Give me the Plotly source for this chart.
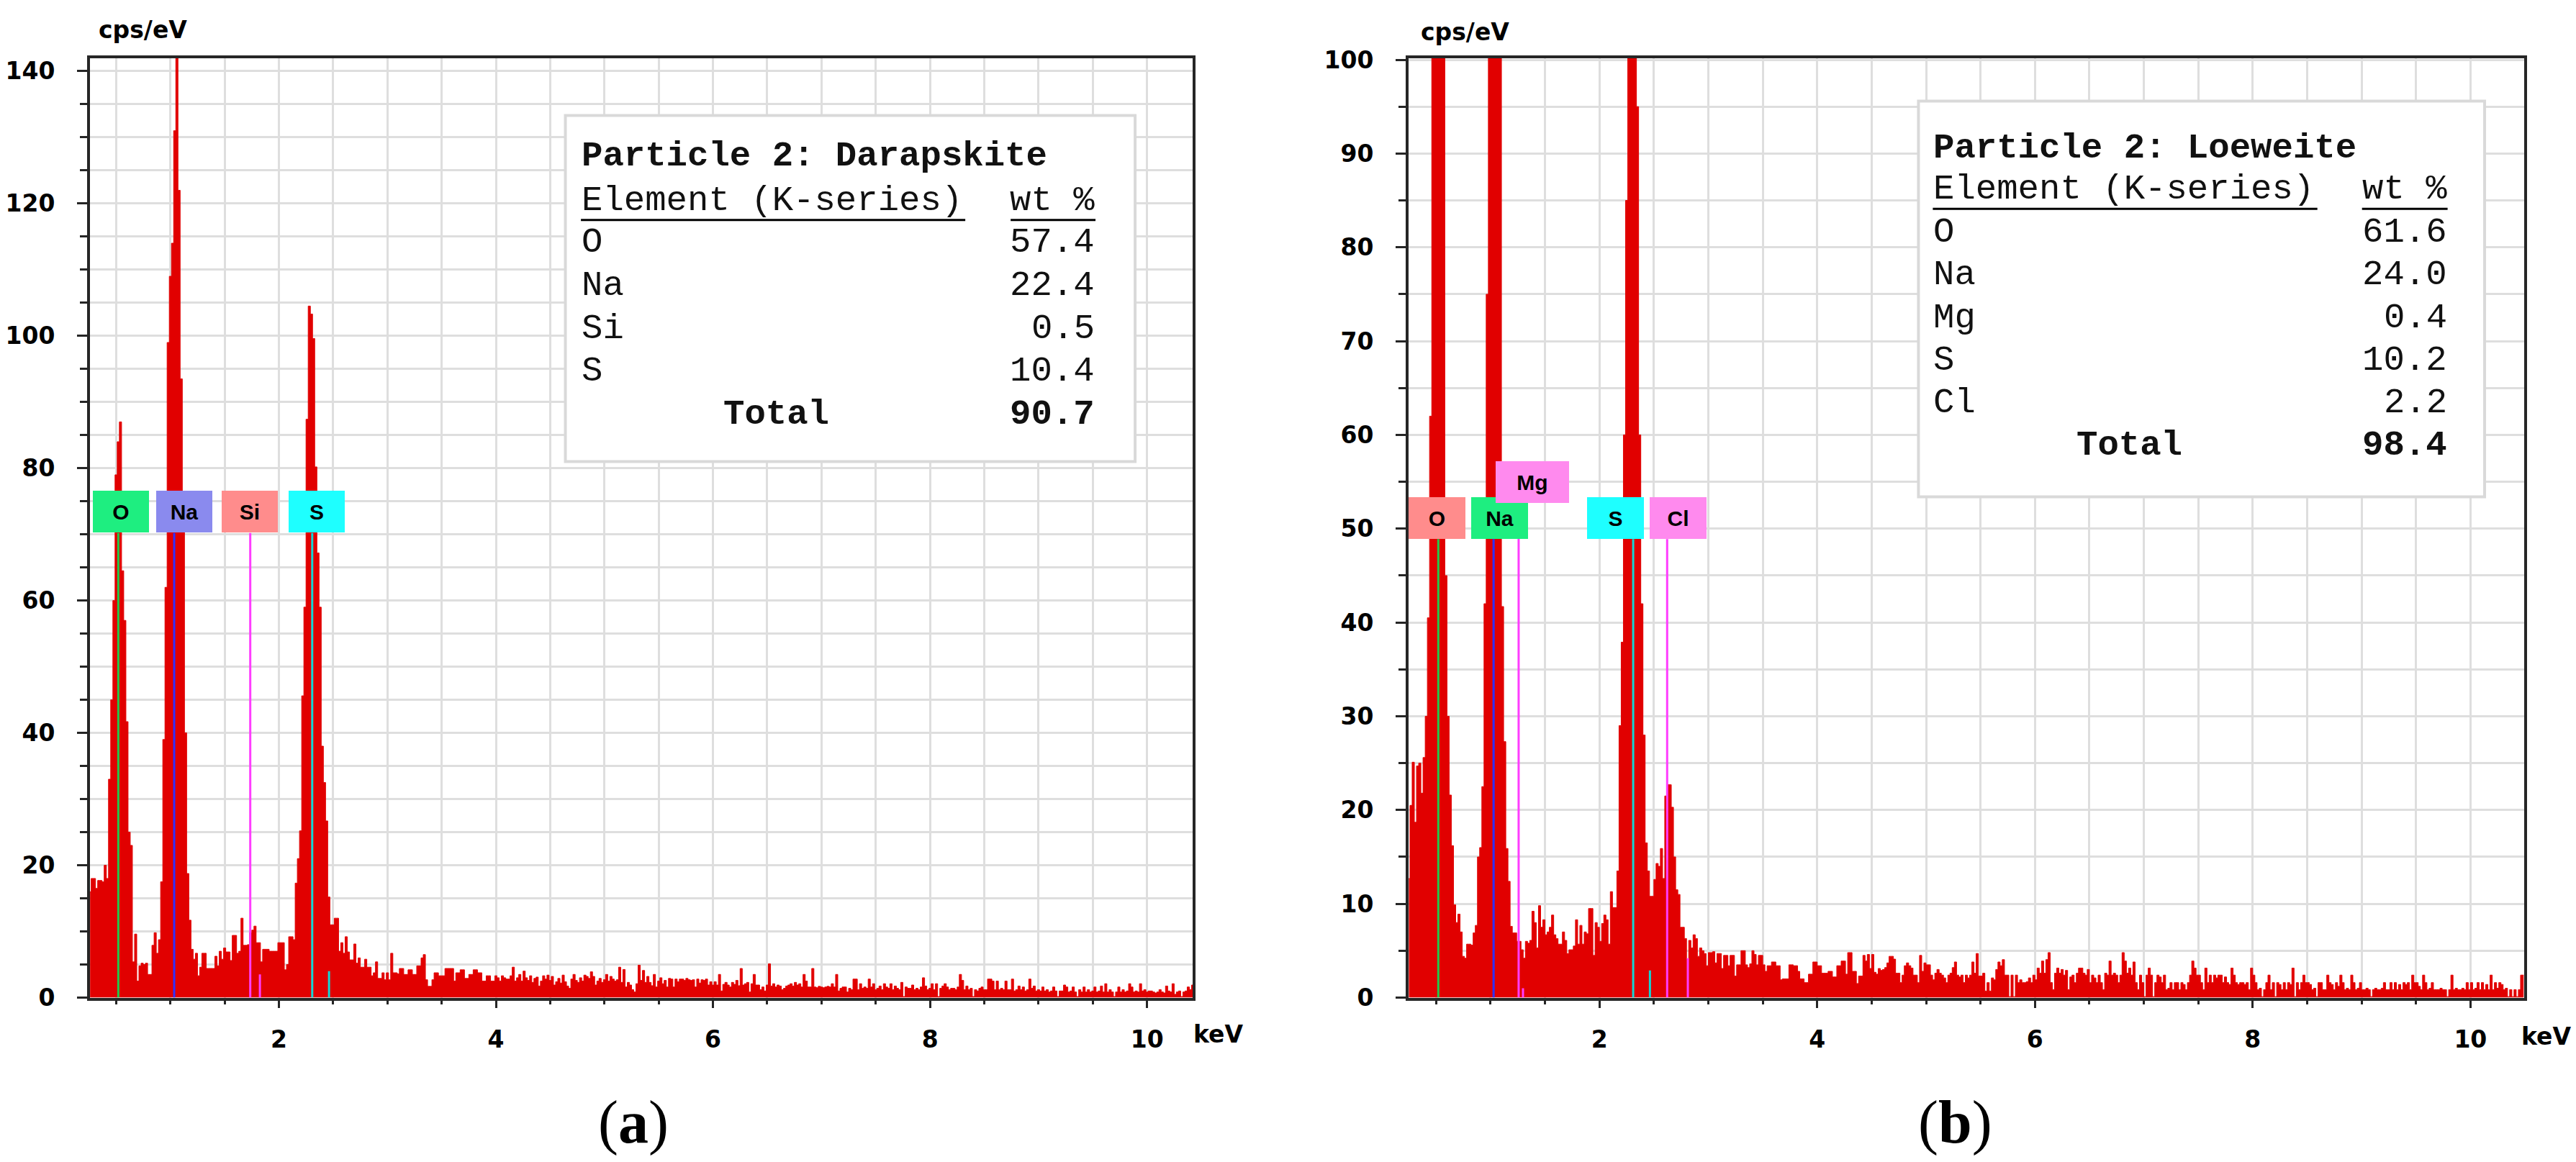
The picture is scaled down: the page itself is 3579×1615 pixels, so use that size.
"""EDS spectra of particle 2: darapskite (a) and loeweite (b)."""

import numpy as np
import plotly.graph_objects as go

W, H = 3579, 1615

# ------------------------------------------------------------------
# Data
# ------------------------------------------------------------------

STEP_KEV = 0.02          # channel width
A_START_KEV = 0.26       # first channel of spectrum (a)
B_START_KEV = 0.25       # first channel of spectrum (b)

# (a) Darapskite, cps/eV per channel
A_COUNTS = [
    16, 18, 18, 16.5, 17.7, 17.7, 17.5, 20, 18, 33,
    45, 60, 79, 84, 87, 64.5, 57, 41.7, 25, 23,
    5.4, 9.6, 2.5, 4.8, 5.2, 5, 5.2, 3.5, 3.5, 7.9,
    9.8, 6.7, 8.75, 17.5, 39, 62, 99, 109, 114, 131,
    150, 122, 93.5, 76, 40, 18.75, 11.7, 7.3, 5.8, 6.7,
    3.3, 4.6, 6.7, 6.7, 4.4, 4.4, 4.4, 4.4, 6.25, 4.8,
    7, 5.8, 7.5, 6.9, 6.9, 5.6, 9.4, 9.4, 6.7, 7,
    12, 7.9, 7.9, 8, 9.8, 10.2, 10.8, 8.3, 8.3, 5.4,
    7.3, 7.3, 7.3, 7, 7, 7, 7, 8.3, 8.3, 8.3,
    4.2, 5, 9.2, 9.2, 8.75, 17.3, 21, 25.2, 45.6, 59,
    87.4, 104.5, 103.3, 99.6, 80.2, 67.2, 59, 38, 32.5, 26.7,
    15.2, 11, 11, 12, 12, 7, 8.3, 6.7, 9.2, 6.9,
    5.7, 5.7, 8.1, 5.2, 6, 4.6, 4.6, 5.8, 4.6, 4.6,
    3.3, 3.75, 5.4, 2.9, 2.9, 3.75, 2.7, 3.75, 2.7, 6.7,
    3.75, 3.75, 3.6, 4.4, 4.4, 3.5, 3.5, 4.2, 4.2, 3.5,
    3.5, 4.8, 4.8, 6.0, 6.5, 2.7, 1.7, 1.7, 2.7, 3.75,
    3.75, 3.3, 3.3, 3.3, 4.4, 4.4, 4.4, 4.4, 2.5, 3.75,
    3.75, 4.2, 4.2, 2.9, 2.9, 3.5, 3.5, 4.2, 4.2, 3.75,
    3.75, 2.5, 2.5, 3.3, 3.3, 2.5, 2.5, 3.3, 3.0, 2.5,
    3.3, 3.0, 2.8,
    # 4.12 keV onwards
    2.8, 3.3, 4.6, 2.5, 3.0, 3.5, 2.5, 4.0, 3.0, 2.6,
    3.3, 2.3, 2.9, 3.1, 1.75, 2.5, 3.3, 2.8, 3.4, 2.6,
    3.2, 1.9, 2.4, 2.9, 2.2, 3.4, 2.4, 1.75, 1.4, 2.8,
    3.5, 2.6, 2.3, 3.0, 2.5, 3.4, 3.2, 2.9, 3.9, 3.2,
    1.9, 2.5, 2.9, 2.3, 2.7, 3.5, 2.5, 3.2, 2.8, 2.5,
    2.7, 4.6, 2.3, 4.25, 1.6, 2.3, 1.9, 1.2, 0.85, 2.1,
    4.9, 2.6, 4.1, 2.3, 3.2, 2.3, 1.8, 3.5, 1.6, 2.5,
    3.0, 2.1, 2.6, 1.6, 2.9, 2.8, 1.6, 2.8, 2.4, 2.8,
    2.8, 2.6, 2.9, 2.7, 2.6, 2.7, 1.6, 2.8, 2.2, 2.7,
    2.6, 2.8, 1.9, 2.4, 1.9, 2.4, 1.9, 3.5, 1.0, 2.0,
    2.3, 1.9, 1.6, 2.3, 2.0, 2.6, 1.8, 4.4, 1.9, 2.1,
    2.3, 0.85, 2.1, 3.5, 1.9, 1.9, 1.2, 1.6, 1.0, 1.9,
    5.1, 1.75, 2.1, 1.6, 1.9, 1.75, 1.2, 1.4, 1.75, 1.9,
    2.1, 1.75, 2.3, 1.9, 2.1, 1.6, 3.5, 2.5, 1.6, 1.6,
    4.4, 1.6, 1.5, 1.7, 1.6, 1.5, 1.6, 1.7, 1.6, 2.1,
    1.6, 3.5, 1.0, 1.4, 1.6, 1.6, 0.85, 1.4, 1.2, 2.8,
    2.8, 1.2, 2.1, 1.4, 1.6, 1.4, 2.8, 1.6, 2.1, 1.2,
    1.4, 1.75, 1.2, 2.1, 1.6, 1.4, 2.1, 1.2, 1.75, 1.4,
    1.2, 2.3, 0.15, 1.6, 1.4, 1.4, 1.9, 1.2, 1.4, 1.2,
    1.6, 3.0, 1.75, 1.2, 1.4, 2.1, 1.2, 2.1, 0.15, 1.4,
    1.75, 2.1, 1.6, 1.2, 1.4, 1.4, 1.2, 1.6, 3.5, 2.6,
    1.2, 1.75, 1.2, 1.4, 0.15, 1.2, 1.0, 1.4, 1.6, 1.2,
    1.2, 2.8, 2.8, 2.5, 1.2, 2.5, 1.2, 1.4, 1.2, 2.5,
    1.2, 1.2, 2.8, 1.0, 1.2, 1.75, 1.2, 1.6, 1.0, 1.2,
    2.8, 1.4, 1.75, 1.0, 1.2, 1.0, 1.6, 1.0, 1.2, 0.85,
    1.0, 1.6, 1.0, 0.15, 1.0, 1.0, 1.9, 1.6, 0.85, 1.0,
    1.6, 0.85, 0.15, 1.2, 0.85, 1.6, 0.85, 1.2, 0.85, 1.0,
    1.6, 0.85, 1.0, 1.75, 0.85, 2.1, 0.85, 1.2, 0.85, 0.15,
    0.85, 1.6, 0.85, 1.2, 0.85, 1.0, 2.1, 1.6, 0.85, 1.0,
    0.85, 2.1, 1.0, 1.2, 0.85, 1.0, 1.0, 0.85, 0.7, 0.85,
    1.2, 0.85, 0.7, 1.75, 1.0, 0.85, 2.1, 0.5, 0.85, 1.0,
    0.15, 0.85, 1.0, 1.6, 1.2, 1.9,
]

# (b) Loeweite, cps/eV per channel
B_COUNTS = [
    12.7, 20.5, 25.1, 18.7, 24.7, 25, 21.8, 25.6, 30, 40.5,
    62, 105, 170, 230, 235, 190, 104, 45, 30, 21.6,
    16.2, 9.9, 8, 8.9, 7, 4.4, 4.2, 5.7, 5.7, 5.6,
    6.9, 7.7, 15, 16, 22.5, 42, 75, 120, 180, 230,
    240, 180, 106, 41.7, 27.3, 15.9, 12.4, 7.6, 6.9, 6.9,
    6, 6, 5.1, 4.2, 6, 5.8, 6.1, 9.2, 8, 5.3,
    9.8, 7.5, 8.3, 6.7, 7, 7.5, 8.8, 6.7, 6.3, 5.7,
    5.7, 7, 6.1, 4.7, 5.1, 5.1, 5.5, 8.3, 5.7, 7.7,
    5.7, 7, 6.8, 9.5, 9.5, 4.5, 8, 7.5, 6, 7.9,
    8.8, 8.3, 5.7, 11.3, 9.6, 9.6, 13.5, 29, 37.9, 60,
    85, 140, 210, 220, 160, 95, 60, 42, 28, 16.5,
    13.5, 10.8, 10.8, 12.6, 14.3, 14, 15.9, 12.7, 21.5, 22.7,
    22.7, 20.3, 15, 11.5, 11, 7.5, 7.5, 6.3, 4.1, 6.1,
    5.3, 6.7, 6.3, 4.4, 5.3, 5.0, 4.7, 3.4, 4.8, 4.8,
    4.9, 3.7, 4.7, 4.7, 3.1, 4.5, 4.5, 3.4, 4.5, 4.5,
    2.3, 3.5, 3.5, 5, 5, 3.5, 3.2, 3.6, 5, 4.6,
    3.5, 4.5, 4.5, 3.5, 2.8, 3.4, 3.4, 3.8, 3.8, 3.4,
    3.4, 1.9, 2.0, 2.0, 2.0, 3.5, 3.5, 3.4, 3.4, 2.8,
    2.0, 2.0, 1.6, 1.6, 2.5, 2.5, 3.8, 3.8, 3.4, 3.4,
    2.6, 2.6, 2.6, 2.8, 2.8, 2.2, 2.2, 3.4, 3.4, 3.9,
    3.9, 2.5, 4.8, 4.8, 2.8, 2.8, 1.5, 2.3, 2.3, 4.5,
    3.9, 4.6, 3.1,
    # 4.51 keV onwards
    4.6, 2.7, 2.5, 3.1, 2.9, 3.0, 3.2, 3.7, 4.4, 4.4,
    4.1, 2.6, 2.6, 1.6, 2.4, 3.4, 3.7, 3.4, 3.15, 2.4,
    2.4, 1.6, 4.5, 2.8, 3.7, 3.5, 3.5, 2.4, 1.9, 2.6,
    3.0, 2.6, 2.4, 2.1, 1.6, 2.4, 2.6, 3.2, 3.8, 2.4,
    2.2, 2.4, 1.6, 2.4, 2.1, 2.4, 3.8, 2.6, 4.7, 2.3,
    2.3, 2.6, 0.7, 1.6, 0.7, 2.1, 1.9, 3.0, 3.8, 3.4,
    4.05, 2.4, 2.4, 0.1, 2.4, 0.1, 2.4, 1.6, 1.9, 1.6,
    1.6, 1.7, 2.1, 1.6, 2.4, 1.9, 3.15, 2.6, 3.9, 2.6,
    4.05, 4.8, 1.6, 0.85, 2.6, 3.15, 2.6, 3.0, 2.4, 2.9,
    0.85, 2.2, 2.4, 1.6, 2.6, 3.15, 3.15, 2.6, 2.4, 3.0,
    1.6, 2.4, 2.1, 1.6, 2.4, 1.6, 0.85, 2.6, 2.4, 3.9,
    2.4, 2.6, 2.4, 1.6, 2.4, 4.8, 3.9, 2.6, 3.15, 2.4,
    3.8, 1.6, 0.85, 2.4, 1.6, 0.1, 2.4, 3.15, 2.4, 0.1,
    1.6, 2.4, 2.2, 1.6, 2.4, 0.85, 1.0, 1.6, 0.85, 1.6,
    1.6, 0.85, 1.6, 1.4, 0.85, 1.6, 2.4, 3.9, 3.15, 2.4,
    2.4, 1.6, 0.85, 3.15, 1.6, 2.4, 1.6, 2.4, 2.1, 2.4,
    2.4, 1.6, 2.2, 1.6, 1.4, 3.15, 2.4, 1.6, 1.4, 1.6,
    1.6, 1.4, 1.6, 0.85, 3.15, 2.4, 1.6, 0.85, 1.0, 0.1,
    0.85, 1.6, 2.4, 0.85, 1.6, 0.1, 1.6, 1.4, 0.85, 1.6,
    0.85, 1.6, 1.4, 3.15, 0.1, 1.6, 0.85, 1.6, 2.4, 1.6,
    1.6, 1.4, 0.85, 1.0, 0.1, 1.6, 1.6, 0.85, 0.85, 2.4,
    1.6, 1.4, 0.85, 1.6, 1.2, 2.4, 1.6, 0.85, 1.0, 0.85,
    2.4, 1.6, 0.85, 1.0, 1.6, 0.85, 0.85, 1.0, 0.85, 0.1,
    0.85, 1.0, 0.85, 0.85, 1.0, 1.6, 0.85, 0.85, 1.6, 0.85,
    1.6, 0.85, 1.4, 0.85, 1.6, 1.4, 1.6, 0.85, 2.4, 1.6,
    1.6, 1.2, 0.85, 2.4, 1.6, 0.85, 1.0, 1.6, 0.85, 0.85,
    0.85, 1.0, 0.85, 0.85, 0.1, 0.85, 2.4, 0.85, 1.0, 0.85,
    0.85, 1.0, 0.85, 1.6, 0.85, 1.6, 0.85, 1.0, 1.6, 0.85,
    1.6, 0.85, 1.4, 0.85, 2.4, 0.85, 1.6, 1.0, 1.6, 1.4,
    0.85, 1.0, 0.1, 0.85, 0.1, 0.85, 0.1, 0.85, 2.4, 2.4,
]

# K-alpha marker lines and their labels
A_ELEMENTS = ["O", "Na", "Si", "S"]
A_LINE_KEV = [0.52, 1.035, 1.736, 2.307]
A_LABEL_KEV = [0.544, 1.127, 1.73, 2.35]
A_KB_KEV = [1.825, 2.462]          # short K-beta markers
A_KB_CPS = [3.5, 4.0]

B_ELEMENTS = ["O", "Na", "Mg", "S", "Cl"]
B_LINE_KEV = [0.52, 1.028, 1.258, 2.31, 2.622]
B_LABEL_KEV = [0.508, 1.085, 1.385, 2.15, 2.72]
B_KB_KEV = [1.298, 2.464, 2.812]
B_KB_CPS = [1.0, 2.9, 4.2]

# quantification tables
A_TITLE = "Particle 2: Darapskite"
A_TABLE_ELEM = ["O", "Na", "Si", "S"]
A_TABLE_WT = ["57.4", "22.4", "0.5", "10.4"]
A_TOTAL = "90.7"

B_TITLE = "Particle 2: Loeweite"
B_TABLE_ELEM = ["O", "Na", "Mg", "S", "Cl"]
B_TABLE_WT = ["61.6", "24.0", "0.4", "10.2", "2.2"]
B_TOTAL = "98.4"

# ------------------------------------------------------------------
# Styles
# ------------------------------------------------------------------

RED = "#E10000"
GRID = "#DEDEDE"
AXIS = "#262626"
GREEN_LBL, BLUE_LBL, SALMON_LBL = "#1EEE80", "#8A8AEE", "#FF8C8C"
CYAN_LBL, PINK_LBL = "#1EFFFF", "#FF8AEE"
GREEN_LN, BLUE_LN, MAGENTA_LN, CYAN_LN = "#22C84A", "#2F2FFF", "#FF3CFF", "#12D6D6"

A_LABEL_COLORS = [GREEN_LBL, BLUE_LBL, SALMON_LBL, CYAN_LBL]
A_LINE_COLORS = [GREEN_LN, BLUE_LN, MAGENTA_LN, CYAN_LN]
A_KB_COLORS = [MAGENTA_LN, CYAN_LN]
B_LABEL_COLORS = [SALMON_LBL, GREEN_LBL, PINK_LBL, CYAN_LBL, PINK_LBL]
B_LINE_COLORS = [GREEN_LN, BLUE_LN, MAGENTA_LN, CYAN_LN, MAGENTA_LN]
B_KB_COLORS = [MAGENTA_LN, CYAN_LN, MAGENTA_LN]

TICK_FONT = dict(family="DejaVu Sans", size=33, color="black", weight="bold")
LABEL_FONT = dict(family="Liberation Sans", size=30, color="black")
TABLE_FONT = dict(family="Liberation Mono", size=49, color="#111111")


def px(x):
    return x / W


def py(y):
    return 1 - y / H


fig = go.Figure()


def add_spectrum(xa, ya, start, counts):
    kev = start + STEP_KEV * np.arange(len(counts))
    fig.add_trace(go.Scatter(
        x=kev, y=counts, xaxis=xa, yaxis=ya,
        mode="lines",
        line=dict(color=RED, width=1, shape="hvh"),
        fill="tozeroy", fillcolor=RED,
        hoverinfo="skip", showlegend=False,
    ))


def add_marker(xa, ya, kev, top, color):
    fig.add_trace(go.Scatter(
        x=[kev, kev], y=[0, top], xaxis=xa, yaxis=ya,
        mode="lines", line=dict(color=color, width=3),
        hoverinfo="skip", showlegend=False,
    ))


def add_label(xr, yr, name, kev, y, color, width):
    fig.add_annotation(
        x=kev, y=y, xref=xr, yref=yr, text=f"<b>{name}</b>",
        showarrow=False, bgcolor=color, width=width, height=58,
        borderpad=0, borderwidth=0, font=LABEL_FONT,
        xanchor="center", yanchor="middle",
    )


def add_table(xr, yr, box, left, right, title_y, head_y, line_y, line_split,
              row_y, row_dy, total_x, title, elems, wts, total):
    fig.add_shape(type="rect", xref=xr, yref=yr,
                  x0=box[0], x1=box[1], y0=box[2], y1=box[3],
                  fillcolor="white", line=dict(color="#D9D9D9", width=4))
    common = dict(xref=xr, yref=yr, showarrow=False, font=TABLE_FONT,
                  yanchor="middle", borderpad=0)
    fig.add_annotation(x=left, y=title_y, text=f"<b>{title}</b>",
                       xanchor="left", **common)
    fig.add_annotation(x=left, y=head_y, text="Element (K-series)",
                       xanchor="left", **common)
    fig.add_annotation(x=right, y=head_y, text="wt %",
                       xanchor="right", **common)
    for x0, x1 in [(left, line_split[0]), (line_split[1], right)]:
        fig.add_shape(type="line", xref=xr, yref=yr, x0=x0, x1=x1,
                      y0=line_y, y1=line_y, line=dict(color="black", width=3))
    for i, (el, wt) in enumerate(zip(elems, wts)):
        y = row_y - i * row_dy
        fig.add_annotation(x=left, y=y, text=el, xanchor="left", **common)
        fig.add_annotation(x=right, y=y, text=wt, xanchor="right", **common)
    y = row_y - len(elems) * row_dy
    fig.add_annotation(x=total_x, y=y, text="<b>Total</b>",
                       xanchor="center", **common)
    fig.add_annotation(x=right, y=y, text=f"<b>{total}</b>",
                       xanchor="right", **common)


# ------------------------------------------------------------------
# Panel (a)
# ------------------------------------------------------------------

add_spectrum("x", "y", A_START_KEV, A_COUNTS)
for kev, col in zip(A_LINE_KEV, A_LINE_COLORS):
    add_marker("x", "y", kev, 70.2, col)
for kev, top, col in zip(A_KB_KEV, A_KB_CPS, A_KB_COLORS):
    add_marker("x", "y", kev, top, col)
for name, kev, col in zip(A_ELEMENTS, A_LABEL_KEV, A_LABEL_COLORS):
    add_label("x", "y", name, kev, 73.4, col, 78)
add_table("x", "y", box=(4.64, 9.89, 81.0, 133.3), left=4.783, right=9.525,
          title_y=127.2, head_y=120.4, line_y=117.5, line_split=(8.325, 8.743),
          row_y=114.1, row_dy=6.5, total_x=6.584,
          title=A_TITLE, elems=A_TABLE_ELEM, wts=A_TABLE_WT, total=A_TOTAL)

# ------------------------------------------------------------------
# Panel (b)
# ------------------------------------------------------------------

add_spectrum("x2", "y2", B_START_KEV, B_COUNTS)
for name, kev, col in zip(B_ELEMENTS, B_LINE_KEV, B_LINE_COLORS):
    add_marker("x2", "y2", kev, 52.8 if name == "Mg" else 48.9, col)
for kev, top, col in zip(B_KB_KEV, B_KB_CPS, B_KB_COLORS):
    add_marker("x2", "y2", kev, top, col)
for name, kev, col in zip(B_ELEMENTS, B_LABEL_KEV, B_LABEL_COLORS):
    if name == "Mg":
        add_label("x2", "y2", name, kev, 55.0, col, 102)
    else:
        add_label("x2", "y2", name, kev, 51.15, col, 79)
add_table("x2", "y2", box=(4.93, 10.13, 53.4, 95.6), left=5.062, right=9.79,
          title_y=90.6, head_y=86.2, line_y=84.1, line_split=(8.594, 9.004),
          row_y=81.6, row_dy=4.55, total_x=6.868,
          title=B_TITLE, elems=B_TABLE_ELEM, wts=B_TABLE_WT, total=B_TOTAL)

# ------------------------------------------------------------------
# Axes and free text
# ------------------------------------------------------------------


def x_axis(domain, rng, anchor):
    return dict(
        domain=domain, range=rng, anchor=anchor, automargin=False,
        tick0=0, dtick=2, ticks="outside", ticklen=10, tickwidth=3,
        tickcolor=AXIS, tickfont=TICK_FONT, ticklabelstandoff=16,
        showline=True, linewidth=4, linecolor=AXIS, mirror=True,
        showgrid=True, gridcolor=GRID, gridwidth=3, zeroline=False,
        minor=dict(tick0=0, dtick=0.5, ticks="outside", ticklen=5,
                   tickwidth=3, tickcolor=AXIS, showgrid=True,
                   gridcolor=GRID, gridwidth=3),
    )


def y_axis(domain, rng, dtick, anchor):
    return dict(
        domain=domain, range=rng, anchor=anchor, automargin=False,
        tick0=0, dtick=dtick, ticks="outside", ticklen=14, tickwidth=3,
        tickcolor=AXIS, tickfont=TICK_FONT, ticklabelstandoff=24,
        showline=True, linewidth=4, linecolor=AXIS, mirror=True,
        showgrid=True, gridcolor=GRID, gridwidth=3, zeroline=False,
        minor=dict(tick0=0, dtick=5, ticks="outside", ticklen=10,
                   tickwidth=3, tickcolor=AXIS, showgrid=True,
                   gridcolor=GRID, gridwidth=3),
    )


y_dom = [py(1386.5), py(80.5)]

fig.update_layout(
    width=W, height=H,
    margin=dict(l=0, r=0, t=0, b=0, autoexpand=False),
    paper_bgcolor="white", plot_bgcolor="white",
    showlegend=False,
    xaxis=x_axis([px(125), px(1657)], [0.259, 10.42], "y"),
    yaxis=y_axis(y_dom, [0, 142.0], 20, "x"),
    xaxis2=x_axis([px(1957), px(3506.5)], [0.247, 10.49], "y2"),
    yaxis2=y_axis(y_dom, [0, 100.2], 10, "x2"),
)

free_text = [
    ("<b>cps/eV</b>", 198, 42, TICK_FONT),
    ("<b>keV</b>", 1692, 1437, TICK_FONT),
    ("<b>cps/eV</b>", 2035, 44, TICK_FONT),
    ("<b>keV</b>", 3537, 1440, TICK_FONT),
    ("(<b>a</b>)", 880, 1560, dict(family="Liberation Serif", size=84, color="black")),
    ("(<b>b</b>)", 2716, 1560, dict(family="Liberation Serif", size=84, color="black")),
]
for text, x, y, font in free_text:
    fig.add_annotation(x=px(x), y=py(y), xref="paper", yref="paper",
                       text=text, showarrow=False, font=font,
                       xanchor="center", yanchor="middle")

# the page body keeps its default 8px margin otherwise, which pushes the
# fixed-size figure past the window
fig.write_html(
    "out.html",
    config={"displayModeBar": False},
    post_script="document.body.style.margin='0';"
                "document.body.style.overflow='hidden';",
)
